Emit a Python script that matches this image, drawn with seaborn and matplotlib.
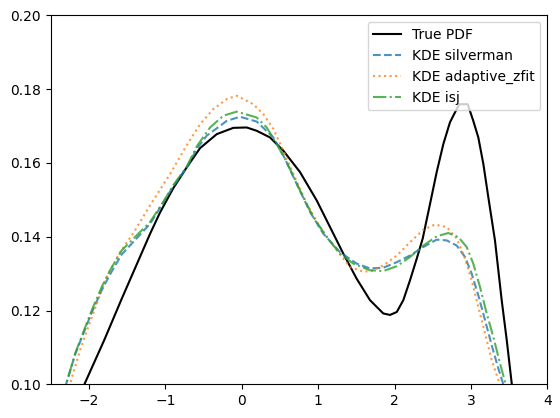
import matplotlib
matplotlib.use("Agg")
import matplotlib.pyplot as plt
import seaborn as sns

# ---------- values ----------
x_true = [-2.3, -2.06, -1.8, -1.571, -1.2, -1.069, -0.895, -0.72, -0.546, -0.327, -0.11,
          0.065, 0.196, 0.37, 0.545, 0.763, 0.982, 1.156, 1.33, 1.505, 1.679, 1.853,
          1.941, 2.03, 2.115, 2.203, 2.29, 2.369, 2.465, 2.552, 2.639, 2.726, 2.792,
          2.848, 2.958, 3.031, 3.097, 3.163, 3.228, 3.315, 3.403, 3.469, 3.534, 3.6]
y_true = [0.0885, 0.1000, 0.1120, 0.1232, 0.1408, 0.1466, 0.1532, 0.1588, 0.1640, 0.1678,
          0.1695, 0.1696, 0.1687, 0.1669, 0.1633, 0.1575, 0.1498, 0.1426, 0.1354, 0.1286,
          0.1228, 0.1192, 0.1188, 0.1196, 0.1228, 0.1282, 0.1340, 0.1395, 0.1489, 0.1575,
          0.1651, 0.1710, 0.1737, 0.1759, 0.1759, 0.1714, 0.1669, 0.1597, 0.1507, 0.1390,
          0.1228, 0.1120, 0.1003, 0.0885]

x_silverman = [-2.45, -2.30, -2.18, -2.073, -1.963, -1.833, -1.724, -1.571, -1.374, -1.2,
               -1.026, -0.895, -0.72, -0.589, -0.458, -0.371, -0.196, -0.022, 0.196, 0.414,
               0.545, 0.72, 0.894, 1.068, 1.287, 1.505, 1.679, 1.853, 2.03, 2.203, 2.377,
               2.552, 2.683, 2.814, 2.923, 3.01, 3.097, 3.185, 3.272, 3.359, 3.424, 3.52]
y_silverman = [0.0895, 0.1000, 0.1082, 0.1138, 0.1195, 0.1255, 0.1298, 0.1352, 0.1396, 0.1435,
               0.1493, 0.1537, 0.1587, 0.1638, 0.1674, 0.1687, 0.1714, 0.1725, 0.1712, 0.1669,
               0.1620, 0.1543, 0.1467, 0.1408, 0.1358, 0.1327, 0.1314, 0.1316, 0.1331, 0.1349,
               0.1372, 0.1392, 0.1390, 0.1376, 0.1345, 0.1300, 0.1241, 0.1174, 0.1106, 0.1043,
               0.1000, 0.0930]

x_adaptive = [-2.40, -2.25, -2.116, -2.008, -1.898, -1.767, -1.593, -1.419, -1.2, -0.938,
              -0.72, -0.546, -0.371, -0.196, -0.065, 0.152, 0.283, 0.414, 0.545, 0.676,
              0.85, 1.025, 1.243, 1.418, 1.59, 1.72, 1.853, 2.03, 2.203, 2.377, 2.53, 2.683,
              2.814, 2.923, 3.01, 3.097, 3.185, 3.272, 3.359, 3.45]
y_adaptive = [0.0895, 0.1000, 0.1093, 0.1156, 0.1219, 0.1291, 0.1358, 0.1410, 0.1485, 0.1570,
              0.1648, 0.1705, 0.1746, 0.1773, 0.1782, 0.1759, 0.1732, 0.1692, 0.1633, 0.1570,
              0.1489, 0.1426, 0.1363, 0.1318, 0.1305, 0.1308, 0.1322, 0.1349, 0.1385, 0.1419,
              0.1433, 0.1426, 0.1395, 0.1341, 0.1282, 0.1210, 0.1138, 0.1066, 0.1012, 0.0950]

x_isj = [-2.45, -2.30, -2.18, -2.073, -1.963, -1.833, -1.724, -1.571, -1.374, -1.2, -1.026,
         -0.895, -0.72, -0.589, -0.415, -0.24, -0.065, 0.196, 0.327, 0.458, 0.589, 0.763,
         0.937, 1.113, 1.287, 1.461, 1.679, 1.853, 2.03, 2.203, 2.377, 2.552, 2.704, 2.835,
         2.945, 3.031, 3.119, 3.207, 3.293, 3.381, 3.455, 3.55]
y_isj = [0.0895, 0.1000, 0.1084, 0.1142, 0.1201, 0.1264, 0.1309, 0.1363, 0.1404, 0.1440,
         0.1495, 0.1540, 0.1590, 0.1645, 0.1696, 0.1728, 0.1739, 0.1723, 0.1696, 0.1651,
         0.1602, 0.1525, 0.1453, 0.1399, 0.1354, 0.1327, 0.1309, 0.1307, 0.1320, 0.1345,
         0.1376, 0.1401, 0.1410, 0.1399, 0.1372, 0.1327, 0.1264, 0.1192, 0.1129, 0.1057,
         0.1000, 0.0925]

# ---------- plot ----------
fig = plt.figure(figsize=(5.6, 4.18), dpi=100)
ax = fig.add_axes([0.0907, 0.0806, 0.8866, 0.8828])

sns.lineplot(x=x_true, y=y_true, ax=ax, color="black", label="True PDF", sort=False)
sns.lineplot(x=x_silverman, y=y_silverman, ax=ax, color="tab:blue", linestyle="--",
             alpha=0.8, label="KDE silverman", sort=False)
sns.lineplot(x=x_adaptive, y=y_adaptive, ax=ax, color="tab:orange", linestyle=":",
             alpha=0.8, label="KDE adaptive_zfit", sort=False)
sns.lineplot(x=x_isj, y=y_isj, ax=ax, color="tab:green", linestyle="-.",
             alpha=0.8, label="KDE isj", sort=False)

ax.set_xlim(-2.5, 4)
ax.set_ylim(0.10, 0.20)
ax.legend(loc="upper right")

fig.savefig("out.png", dpi=100)
